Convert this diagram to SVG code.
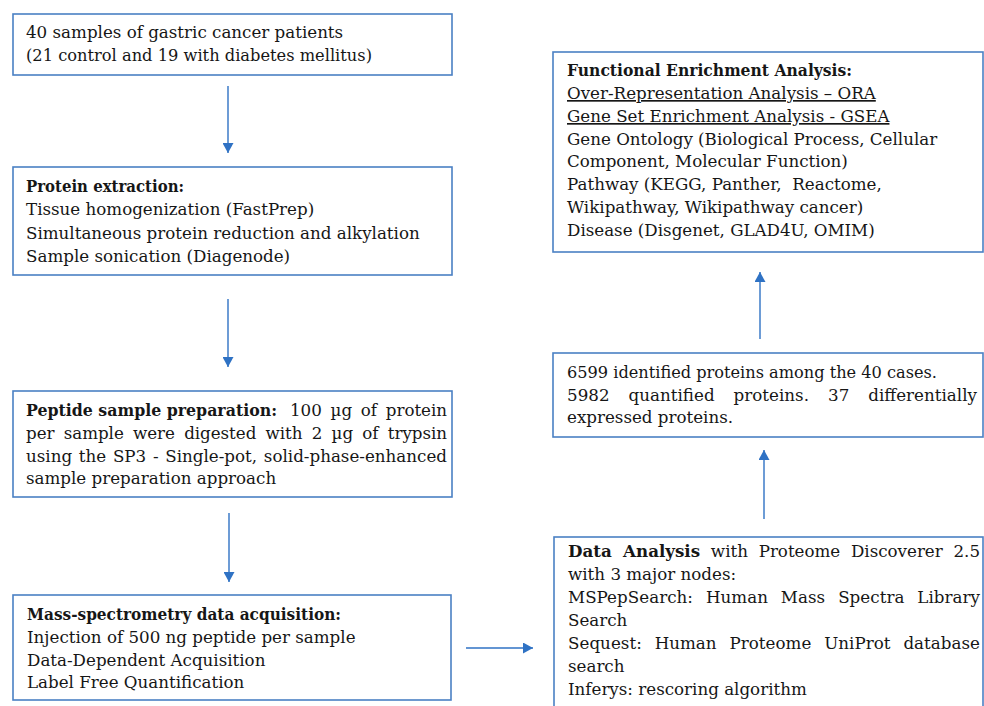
<svg xmlns="http://www.w3.org/2000/svg" width="984" height="706" viewBox="0 0 984 706">
<style>
.t { font-family: "DejaVu Serif", "Liberation Serif", serif; font-size: 16.7px; fill: #161616; }
.b { font-weight: bold; }
.u { text-decoration: underline; }
.box { fill: #ffffff; stroke: #4a80c4; stroke-width: 1.6; }
.arr { stroke: #2f72c4; stroke-width: 1.4; fill: none; marker-end: url(#ah); }
</style>
<defs>
<marker id="ah" viewBox="0 0 10 11" refX="10" refY="5.5" markerWidth="10" markerHeight="11" markerUnits="userSpaceOnUse" orient="auto">
<path d="M0,0 L10,5.5 L0,11 z" fill="#2f72c4"/>
</marker>
</defs>
<rect x="0" y="0" width="984" height="706" fill="#ffffff"/>

<g id="connectors">
<line class="arr" x1="228" y1="86" x2="228" y2="153"/>
<line class="arr" x1="228" y1="299" x2="228" y2="367"/>
<line class="arr" x1="229" y1="513" x2="229" y2="582"/>
<line class="arr" x1="466" y1="648" x2="533" y2="648"/>
<line class="arr" x1="764" y1="519" x2="764" y2="450"/>
<line class="arr" x1="760" y1="339" x2="760" y2="272"/>
</g>

<g id="samples">
<rect class="box" x="13" y="14" width="439" height="61"/>
<text class="t" x="26" y="38">40 samples of gastric cancer patients</text>
<text class="t" x="26" y="60.5" textLength="346" lengthAdjust="spacingAndGlyphs">(21 control and 19 with diabetes mellitus)</text>
</g>

<g id="protein-extraction">
<rect class="box" x="13" y="167" width="439" height="108"/>
<text class="t b" x="26" y="192" textLength="158" lengthAdjust="spacingAndGlyphs">Protein extraction:</text>
<text class="t" x="26" y="215">Tissue homogenization (FastPrep)</text>
<text class="t" x="26" y="238.5">Simultaneous protein reduction and alkylation</text>
<text class="t" x="26" y="262">Sample sonication (Diagenode)</text>
</g>

<g id="peptide-preparation">
<rect class="box" x="13" y="391" width="439" height="106"/>
<text class="t b" x="26" y="416" textLength="251" lengthAdjust="spacingAndGlyphs">Peptide sample preparation:</text>
<text class="t" x="290" y="416" textLength="157" lengthAdjust="spacing" style="word-spacing:3.5px">100 µg of protein</text>
<text class="t" x="26" y="439" textLength="421" lengthAdjust="spacing" style="word-spacing:4px">per sample were digested with 2 µg of trypsin</text>
<text class="t" x="26" y="461.5" textLength="421" lengthAdjust="spacing" style="word-spacing:1.4px">using the SP3 - Single-pot, solid-phase-enhanced</text>
<text class="t" x="26" y="484">sample preparation approach</text>
</g>

<g id="ms-acquisition">
<rect class="box" x="13" y="595" width="438" height="105"/>
<text class="t b" x="27" y="620" textLength="314" lengthAdjust="spacingAndGlyphs">Mass-spectrometry data acquisition:</text>
<text class="t" x="27" y="643">Injection of 500 ng peptide per sample</text>
<text class="t" x="27" y="665.5">Data-Dependent Acquisition</text>
<text class="t" x="27" y="688">Label Free Quantification</text>
</g>

<g id="data-analysis">
<rect class="box" x="554" y="537" width="429" height="180"/>
<text class="t" x="568" y="557" textLength="412" lengthAdjust="spacing" style="word-spacing:5.5px"><tspan class="b">Data Analysis</tspan> with Proteome Discoverer 2.5</text>
<text class="t" x="568" y="580">with 3 major nodes:</text>
<text class="t" x="568" y="603" textLength="412" lengthAdjust="spacing" style="word-spacing:7.6px">MSPepSearch: Human Mass Spectra Library</text>
<text class="t" x="568" y="626">Search</text>
<text class="t" x="568" y="649" textLength="412" lengthAdjust="spacing" style="word-spacing:7.5px">Sequest: Human Proteome UniProt database</text>
<text class="t" x="568" y="672">search</text>
<text class="t" x="568" y="695">Inferys: rescoring algorithm</text>
</g>

<g id="identified-proteins">
<rect class="box" x="553" y="353" width="430" height="84"/>
<text class="t" x="567" y="378" textLength="370" lengthAdjust="spacingAndGlyphs">6599 identified proteins among the 40 cases.</text>
<text class="t" x="567" y="401" textLength="410" lengthAdjust="spacing" style="word-spacing:13.6px">5982 quantified proteins. 37 differentially</text>
<text class="t" x="567" y="423">expressed proteins.</text>
</g>

<g id="functional-enrichment">
<rect class="box" x="553" y="52" width="430" height="200"/>
<text class="t b" x="567" y="76" textLength="285" lengthAdjust="spacingAndGlyphs">Functional Enrichment Analysis:</text>
<text class="t u" x="567" y="99">Over-Representation Analysis – ORA</text>
<text class="t u" x="567" y="122">Gene Set Enrichment Analysis - GSEA</text>
<text class="t" x="567" y="144.5">Gene Ontology (Biological Process, Cellular</text>
<text class="t" x="567" y="167">Component, Molecular Function)</text>
<text class="t" x="567" y="190">Pathway (KEGG, Panther,&#160; Reactome,</text>
<text class="t" x="567" y="213">Wikipathway, Wikipathway cancer)</text>
<text class="t" x="567" y="236">Disease (Disgenet, GLAD4U, OMIM)</text>
</g>
</svg>
